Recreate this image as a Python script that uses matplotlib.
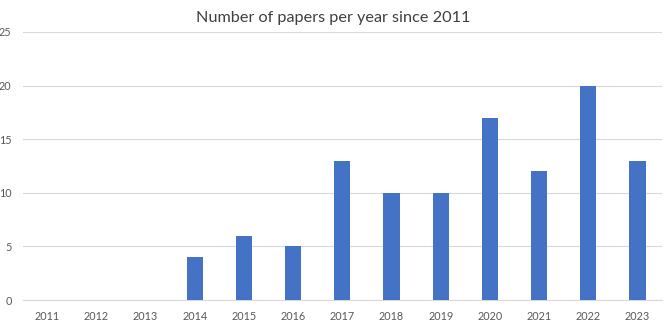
import matplotlib
matplotlib.use("Agg")
import matplotlib.pyplot as plt

years = ["2011", "2012", "2013", "2014", "2015", "2016", "2017", "2018", "2019", "2020", "2021", "2022", "2023"]
papers = [0, 0, 0, 4, 6, 5, 13, 10, 10, 17, 12, 20, 13]
yticks = [0, 5, 10, 15, 20, 25]

plt.rcParams['font.family'] = ['Lato', 'DejaVu Sans']

fig = plt.figure(figsize=(6.66, 3.23), dpi=100)
ax = fig.add_axes([0.034, 0.071, 0.96, 0.83])
x = list(range(len(years)))
ax.bar(x, papers, width=0.33, color="#4472C4", zorder=3)
ax.set_xlim(-0.5, len(years) - 0.5)
ax.set_ylim(0, 25)
ax.set_yticks(yticks)
ax.set_xticks(x)
ax.set_xticklabels(years)
ax.yaxis.grid(True, color="#D9D9D9", linewidth=0.8, zorder=0)
for s in ["top", "right", "left"]:
    ax.spines[s].set_visible(False)
ax.spines["bottom"].set_color("#D9D9D9")
ax.tick_params(axis="both", length=0, labelsize=7.8, labelcolor="#595959")
ax.tick_params(axis="x", pad=8)
ax.tick_params(axis="y", pad=8)
fig.text(0.5, 0.945, "Number of papers per year since 2011", ha="center", va="center",
         fontsize=11.7, color="#404040")
fig.savefig("out.png", dpi=100)
